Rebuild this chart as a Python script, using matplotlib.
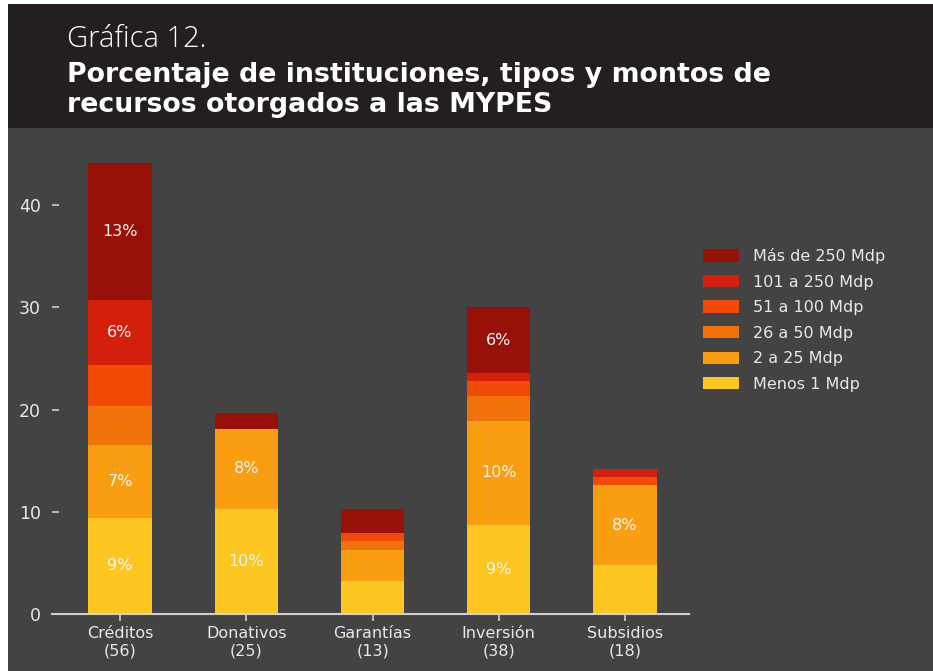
import matplotlib.pyplot as plt
import matplotlib.patches as mpatches
import numpy as np

plt.rcParams['font.family'] = ['DejaVu Sans']

# Datos
categorias = ['Créditos\n(56)', 'Donativos\n(25)', 'Garantías\n(13)', 'Inversión\n(38)', 'Subsidios\n(18)']
series = ['Menos 1 Mdp', '2 a 25 Mdp', '26 a 50 Mdp', '51 a 100 Mdp', '101 a 250 Mdp', 'Más de 250 Mdp']

menos_1 = [9.4, 10.3, 3.2, 8.7, 4.8]
de_2_a_25 = [7.1, 7.8, 3.1, 10.2, 7.8]
de_26_a_50 = [3.9, 0.0, 0.8, 2.4, 0.0]
de_51_a_100 = [4.0, 0.0, 0.8, 1.5, 0.8]
de_101_a_250 = [6.3, 0.0, 0.0, 0.8, 0.8]
mas_250 = [13.4, 1.6, 2.4, 6.4, 0.0]

etiquetas = [
    ['9%', '10%', '', '9%', ''],
    ['7%', '8%', '', '10%', '8%'],
    ['', '', '', '', ''],
    ['', '', '', '', ''],
    ['6%', '', '', '', ''],
    ['13%', '', '', '6%', ''],
]

colores = ['#fec621', '#f99e10', '#ef7308', '#f04a06', '#d31f0b', '#981108']

valores = [menos_1, de_2_a_25, de_26_a_50, de_51_a_100, de_101_a_250, mas_250]

fondo = '#434343'
texto = '#e8e8e8'

fig = plt.figure(figsize=(9.33, 6.71), dpi=100)
fig.patch.set_facecolor('white')
# fondo gris y encabezado oscuro
fig.patches.append(mpatches.Rectangle((8 / 933, 0), 1, 1 - 4 / 671, transform=fig.transFigure,
                                      facecolor=fondo, edgecolor='none', zorder=-10))
fig.patches.append(mpatches.Rectangle((8 / 933, 1 - 128 / 671), 1, 124 / 671, transform=fig.transFigure,
                                      facecolor='#231f20', edgecolor='none', zorder=-9))

fig.text(67 / 933, 1 - 47 / 671, 'Gráfica 12.', color='white', fontsize=21,
         family='Open Sans', fontweight='light')
fig.text(67 / 933, 1 - 82 / 671, 'Porcentaje de instituciones, tipos y montos de', color='white',
         fontsize=19.3, fontweight='bold')
fig.text(67 / 933, 1 - 112 / 671, 'recursos otorgados a las MYPES', color='white',
         fontsize=19.3, fontweight='bold')

ax = fig.add_axes([52 / 933, 1 - 614 / 671, 637 / 933, 464 / 671])
ax.set_facecolor('none')

x = np.arange(len(categorias))
base = np.zeros(len(categorias))
barras = []
for nombre, vals, color, etq in zip(series, valores, colores, etiquetas):
    cont = ax.bar(x, vals, width=0.5, bottom=base, color=color, label=nombre)
    ax.bar_label(cont, labels=etq, label_type='center', color='#f5f5f5', fontsize=11.5)
    barras.append(cont)
    base = base + np.array(vals)

ax.set_xlim(-0.539, 4.507)
ax.set_ylim(0, 45.4)
ax.set_yticks([0, 10, 20, 30, 40])
ax.set_xticks(x)
ax.set_xticklabels(categorias, color=texto, fontsize=11.5, linespacing=1.2)

for s in ['top', 'right', 'left']:
    ax.spines[s].set_visible(False)
ax.spines['bottom'].set_color('#d0d0d0')
ax.spines['bottom'].set_linewidth(1.5)
ax.tick_params(axis='y', direction='in', length=5, width=1.2, color='#d0d0d0',
               labelcolor=texto, labelsize=12.5, pad=8)
ax.tick_params(axis='x', direction='out', length=5, width=1.2, color='#d0d0d0', pad=4)

fig.legend(handles=barras[::-1], labels=series[::-1], loc='upper left',
           bbox_to_anchor=(703 / 933, 1 - 248 / 671), frameon=False, fontsize=11.5,
           labelcolor=texto, handlelength=2.25, handleheight=0.8, handletextpad=0.9,
           labelspacing=0.66, borderpad=0, borderaxespad=0)

fig.savefig('out.png', dpi=100, facecolor=fig.get_facecolor())
